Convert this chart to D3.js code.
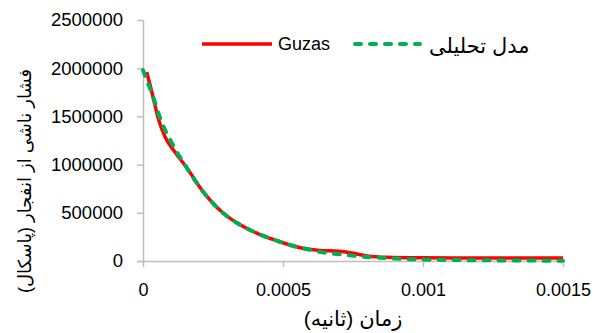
<!DOCTYPE html>
<html>
<head>
<meta charset="utf-8">
<script src="https://cdn.jsdelivr.net/npm/d3@7"></script>
<style>
    body { margin: 0; background: #fff; }
    svg text { font-family: "Liberation Sans", "DejaVu Sans", sans-serif; fill: #000; }
</style>
</head>
<body>
<div id="chart"></div>
<script>
// Guzas (red) series
const guzasTime = [0.000013, 0.000036, 0.000054, 0.000079, 0.000114, 0.000157, 0.00021, 0.000245, 0.000287, 0.000329, 0.000382, 0.00043, 0.000478, 0.000525, 0.000585, 0.00063, 0.0007, 0.00074, 0.0008, 0.00087, 0.001, 0.0012, 0.0015];
const guzasPressure = [1960000, 1701000, 1483000, 1286000, 1131000, 964000, 737000, 615000, 495000, 407000, 322000, 260000, 210000, 166000, 124000, 110000, 100000, 85000, 52000, 38000, 33000, 31000, 30000];

// analytical model (green dashed) series
const modelTime = [0, 0.000043, 0.000061, 0.000107, 0.000157, 0.00021, 0.000245, 0.000287, 0.000329, 0.000382, 0.00043, 0.000478, 0.000525, 0.000585, 0.00063, 0.0007, 0.0008, 0.0009, 0.001, 0.0012, 0.0015];
const modelPressure = [1980000, 1643000, 1483000, 1203000, 964000, 737000, 615000, 495000, 407000, 322000, 260000, 210000, 166000, 124000, 95000, 70000, 42000, 25000, 15000, 8000, 3000];

const xTicks = [0, 0.0005, 0.001, 0.0015];
const yTicks = [0, 500000, 1000000, 1500000, 2000000, 2500000];

const seriesNames = ["Guzas", "مدل تحلیلی"];
const xTitle = "زمان (ثانیه)";
const yTitle = "فشار ناشی از انفجار (پاسکال)";

const W = 593, H = 333;
const margin = { top: 20, right: 30, bottom: 72, left: 143 };
const width = W - margin.left - margin.right;
const height = H - margin.top - margin.bottom;
const axisColor = "#bfbfbf";

const svg = d3.select("#chart")
    .append("svg")
    .attr("width", W)
    .attr("height", H);

const g = svg.append("g")
    .attr("transform", `translate(${margin.left},${margin.top})`);

const x = d3.scaleLinear().domain([0, 0.0015]).range([0, width]);
const y = d3.scaleLinear().domain([0, 2500000]).range([height, 0]);

// Y axis
const yAxis = g.append("g")
    .call(d3.axisLeft(y).tickValues(yTicks).tickFormat(d3.format("d")).tickSize(6).tickPadding(14));
yAxis.selectAll("text").style("font-size", "18.5px");

// X axis
const xAxis = g.append("g")
    .attr("transform", `translate(0,${height})`)
    .call(d3.axisBottom(x).tickValues(xTicks).tickFormat(d => d === 0 ? "0" : String(d)).tickSize(6).tickPadding(16));
xAxis.selectAll("text").style("font-size", "18px");

g.selectAll(".domain").attr("stroke", axisColor).attr("stroke-width", 1.5);
g.selectAll(".tick line").attr("stroke", axisColor).attr("stroke-width", 1.5);
// no outer end ticks, just the plain axis lines
yAxis.select(".domain").attr("d", `M0.5,0V${height}`);
xAxis.select(".domain").attr("d", `M-6,0.5H${width}`);

const line = d3.line()
    .x(d => x(d[0]))
    .y(d => y(d[1]))
    .curve(d3.curveMonotoneX);

const guzas = guzasTime.map((t, i) => [t, guzasPressure[i]]);
const model = modelTime.map((t, i) => [t, modelPressure[i]]);

g.append("path")
    .datum(guzas)
    .attr("fill", "none")
    .attr("stroke", "#ff0000")
    .attr("stroke-width", 3.5)
    .attr("stroke-linejoin", "round")
    .attr("d", line);

g.append("path")
    .datum(model)
    .attr("fill", "none")
    .attr("stroke", "#00b050")
    .attr("stroke-width", 4)
    .attr("stroke-linecap", "round")
    .attr("stroke-dasharray", "6,9")
    .attr("d", line);

// Legend
const legend = svg.append("g");
legend.append("line")
    .attr("x1", 202).attr("x2", 272).attr("y1", 44).attr("y2", 44)
    .attr("stroke", "#ff0000").attr("stroke-width", 3.5);
legend.append("text")
    .attr("x", 278).attr("y", 50)
    .style("font-size", "18px")
    .text(seriesNames[0]);
legend.append("line")
    .attr("x1", 355).attr("x2", 420).attr("y1", 44).attr("y2", 44)
    .attr("stroke", "#00b050").attr("stroke-width", 4)
    .attr("stroke-linecap", "round")
    .attr("stroke-dasharray", "6,9");
legend.append("text")
    .attr("x", 429).attr("y", 53)
    .style("font-size", "21px")
    .text(seriesNames[1]);

// Axis titles
svg.append("text")
    .attr("x", margin.left + width / 2)
    .attr("y", 326)
    .attr("text-anchor", "middle")
    .style("font-size", "21px")
    .text(xTitle);

svg.append("text")
    .attr("transform", "translate(31,181) rotate(-90)")
    .attr("text-anchor", "middle")
    .style("font-size", "18px")
    .text(yTitle);
</script>
</body>
</html>
